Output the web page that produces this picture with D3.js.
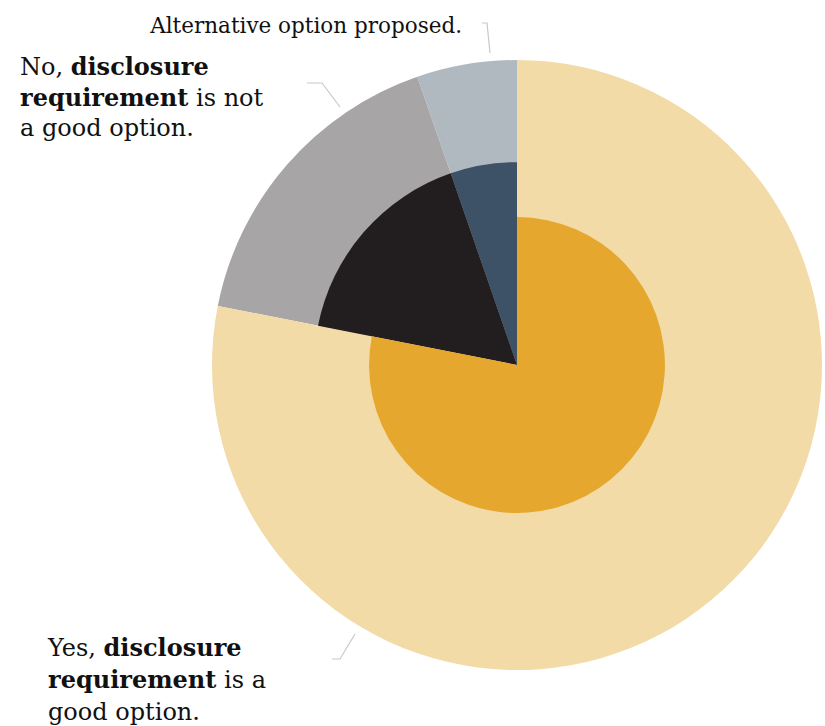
<!DOCTYPE html>
<html>
<head>
<meta charset="utf-8">
<script src="https://cdn.jsdelivr.net/npm/d3@7"></script>
<style>
  html, body { margin: 0; padding: 0; background: #ffffff; }
  svg { display: block; }
  text { font-family: "DejaVu Serif", Georgia, serif; fill: #111; }
</style>
</head>
<body>
<svg id="chart" width="825" height="726"></svg>
<script>
// ---- data ----
const categories = ["Alternative", "No", "Yes"];
const values = [5.3, 16.6, 78.1];               // share of responses (%)
const innerShare = [0.665, 0.665, 0.485];        // inner ring size relative to outer
const outerColors = ["#b1b9c0", "#a8a5a6", "#f3dba8"];
const innerColors = ["#3e5267", "#221e1f", "#e5a72d"];
const labelLines = [
  [[{t: "Alternative option proposed.", b: false}]],
  [[{t: "No, ", b: false}, {t: "disclosure", b: true}],
   [{t: "requirement", b: true}, {t: " is not", b: false}],
   [{t: "a good option.", b: false}]],
  [[{t: "Yes, ", b: false}, {t: "disclosure", b: true}],
   [{t: "requirement", b: true}, {t: " is a", b: false}],
   [{t: "good option.", b: false}]]
];

const svg = d3.select("#chart");
const cx = 517, cy = 365, R = 305;
const g = svg.append("g").attr("transform", `translate(${cx},${cy})`);

const data = categories.map((c, i) => ({cat: c, value: values[i], inner: innerShare[i], i}));
const pie = d3.pie().sort(null).value(d => d.value).startAngle(0).endAngle(-2 * Math.PI);
const arcs = pie(data);

const rScale = d3.scaleLinear().domain([0, 1]).range([0, R]);
const outerArc = d3.arc().innerRadius(0).outerRadius(R);
const innerArc = d3.arc().innerRadius(0).outerRadius(d => rScale(d.data.inner));

g.selectAll("path.outer").data(arcs).join("path")
  .attr("class", "outer")
  .attr("d", outerArc)
  .attr("fill", d => outerColors[d.data.i]);

g.selectAll("path.inner").data(arcs).join("path")
  .attr("class", "inner")
  .attr("d", innerArc)
  .attr("fill", d => innerColors[d.data.i]);

// leader lines (polyline: label end -> elbow -> near slice)
const leaders = [
  [[482, 23], [487, 23], [490, 53]],
  [[307, 83], [322, 83], [340, 107]],
  [[332, 659], [340, 659], [355, 634]]
];
svg.selectAll("path.leader").data(leaders).join("path")
  .attr("class", "leader")
  .attr("d", d => d3.line()(d))
  .attr("fill", "none")
  .attr("stroke", "#c8c8c8")
  .attr("stroke-width", 1.2);

// labels
const labelPos = [
  {x: 462, y: 33, anchor: "end", lh: 31, fs: 21.5},
  {x: 20, y: 75, anchor: "start", lh: 30.5, fs: 24},
  {x: 48, y: 656, anchor: "start", lh: 32, fs: 24}
];
labelLines.forEach((lines, i) => {
  const p = labelPos[i];
  const t = svg.append("text")
    .attr("x", p.x).attr("y", p.y)
    .attr("text-anchor", p.anchor)
    .attr("font-size", p.fs);
  lines.forEach((line, li) => {
    line.forEach((seg, si) => {
      const ts = t.append("tspan").text(seg.t)
        .attr("font-weight", seg.b ? "bold" : "normal")
        .style("white-space", "pre");
      if (si === 0) ts.attr("x", p.x).attr("dy", li === 0 ? 0 : p.lh);
    });
  });
});
</script>
</body>
</html>
